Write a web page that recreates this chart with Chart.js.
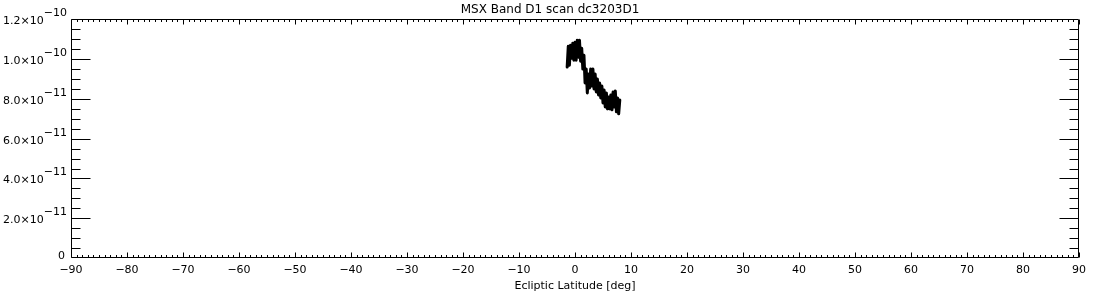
<!DOCTYPE html>
<html><head><meta charset="utf-8">
<script src="https://cdn.jsdelivr.net/npm/chart.js@4/dist/chart.umd.min.js"></script>
<style>html,body{margin:0;padding:0;background:#fff}</style>
</head><body>
<canvas id="c" width="1100" height="300"></canvas>
<script>
const titleText = 'MSX Band D1 scan dc3203D1';
const xAxisTitle = 'Ecliptic Latitude [deg]';
const latitude = [-1.4,-1.2,-1.0,-0.8,-0.6,-0.4,-0.2,0.0,0.2,0.4,0.6,0.8,1.0,1.2,1.4,1.6,1.8,2.0,2.2,2.4,2.6,2.8,3.0,3.2,3.4,3.6,3.8,4.0,4.2,4.4,4.6,4.8,5.0,5.2,5.4,5.6,5.8,6.0,6.2,6.4,6.6,6.8,7.0,7.2,7.4,7.6,7.8,8.0];
const flux = [9.6e-11,10.65e-11,9.7e-11,10.7e-11,10.05e-11,10.8e-11,9.95e-11,10.85e-11,9.95e-11,10.95e-11,10.1e-11,10.95e-11,9.9e-11,10.55e-11,9.5e-11,10.2e-11,8.8e-11,9.5e-11,8.3e-11,9.25e-11,8.55e-11,9.5e-11,8.65e-11,9.5e-11,8.5e-11,9.25e-11,8.35e-11,9.0e-11,8.2e-11,8.8e-11,8.05e-11,8.65e-11,7.8e-11,8.45e-11,7.6e-11,8.3e-11,7.5e-11,8.1e-11,7.5e-11,8.2e-11,7.45e-11,8.35e-11,7.6e-11,8.4e-11,7.35e-11,8.05e-11,7.25e-11,7.95e-11];
const xTickValues = [-90,-80,-70,-60,-50,-40,-30,-20,-10,0,10,20,30,40,50,60,70,80,90];
const xTickLabels = ['−90','−80','−70','−60','−50','−40','−30','−20','−10','0','10','20','30','40','50','60','70','80','90'];
const yTickValues = [0,2e-11,4e-11,6e-11,8e-11,1e-10,1.2e-10];
const yTickMantissa = ['0','2.0×10','4.0×10','6.0×10','8.0×10','1.0×10','1.2×10'];
const yTickExponent = ['','−11','−11','−11','−11','−10','−10'];

const FONT = 'DejaVu Sans';

const framePlugin = {
  id: 'frame',
  afterDraw(chart) {
    const {ctx, chartArea: a, scales} = chart;
    const x = scales.x, y = scales.y;
    ctx.save();
    ctx.strokeStyle = '#000';
    ctx.lineWidth = 1;
    const L = Math.round(a.left) + 0.5, R = Math.round(a.right) - 0.5;
    const T = Math.round(a.top) + 0.5, B = Math.round(a.bottom) - 0.5;
    ctx.beginPath();
    ctx.rect(L, T, R - L, B - T);
    for (let v = x.min; v <= x.max; v += 1) {
      const px = Math.round(x.getPixelForValue(v)) + 0.5;
      const len = (v % 10 === 0) ? 5 : 2.5;
      ctx.moveTo(px, B); ctx.lineTo(px, B - len);
      ctx.moveTo(px, T); ctx.lineTo(px, T + len);
    }
    for (let k = 1; k <= 23; k++) {
      const v = k * 0.5e-11;
      const py = Math.round(y.getPixelForValue(v)) + 0.5;
      const len = (k % 4 === 0) ? 19 : 9;
      ctx.moveTo(L, py); ctx.lineTo(L + len, py);
      ctx.moveTo(R, py); ctx.lineTo(R - len, py);
    }
    ctx.stroke();
    ctx.fillStyle = '#000';
    ctx.font = '11px "' + FONT + '"';
    ctx.textBaseline = 'middle';
    ctx.textAlign = 'right';
    const rightEdge = a.left - 4;
    yTickValues.forEach((v, i) => {
      const py = y.getPixelForValue(v);
      const ex = yTickExponent[i];
      if (!ex) {
        ctx.fillText(yTickMantissa[i], rightEdge - 2, py - 2);
      } else {
        const w = ctx.measureText(ex).width;
        ctx.fillText(ex, rightEdge, py - 6);
        ctx.fillText(yTickMantissa[i], rightEdge - w, py + 2);
      }
    });
    ctx.restore();
  }
};

new Chart(document.getElementById('c'), {
  type: 'line',
  data: {
    datasets: [{
      data: latitude.map((v, i) => ({x: v, y: flux[i]})),
      borderColor: '#000',
      borderWidth: 3,
      borderJoinStyle: 'round',
      borderCapStyle: 'round',
      pointRadius: 0,
      tension: 0,
      fill: false
    }]
  },
  options: {
    responsive: false,
    animation: false,
    devicePixelRatio: 1,
    layout: {padding: 0},
    plugins: {
      legend: {display: false},
      tooltip: {enabled: false},
      title: {
        display: true, text: titleText, color: '#000',
        font: {family: FONT, size: 12, weight: 'normal'},
        padding: {top: 3, bottom: 2}
      }
    },
    scales: {
      x: {
        type: 'linear', position: 'bottom', min: -90, max: 90,
        grid: {display: false, drawTicks: false},
        border: {display: false},
        afterBuildTicks(s) { s.ticks = xTickValues.map(v => ({value: v})); },
        ticks: {
          color: '#000', font: {family: FONT, size: 11}, padding: 6,
          maxRotation: 0, autoSkip: false,
          callback: (v, i) => xTickLabels[i]
        },
        title: {display: true, text: xAxisTitle, color: '#000', font: {family: FONT, size: 11}, padding: {top: 0, bottom: 7}},
        afterFit(s) { s.height = 42; }
      },
      y: {
        type: 'linear', position: 'left', min: 0, max: 1.2e-10,
        grid: {display: false, drawTicks: false},
        border: {display: false},
        afterBuildTicks(s) { s.ticks = yTickValues.map(v => ({value: v})); },
        ticks: {display: false},
        afterFit(s) { s.width = 71; }
      },
      yR: {
        type: 'linear', position: 'right', min: 0, max: 1.2e-10,
        grid: {display: false, drawTicks: false},
        border: {display: false},
        ticks: {display: false},
        afterFit(s) { s.width = 21; }
      }
    }
  },
  plugins: [framePlugin]
});
</script>
</body></html>
